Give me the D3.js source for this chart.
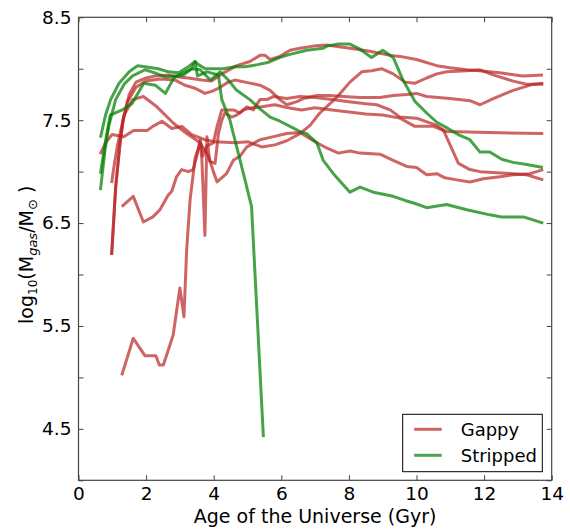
<!DOCTYPE html>
<html>
<head>
<meta charset="utf-8">
<script src="https://cdn.jsdelivr.net/npm/d3@7"></script>
<style>
  body { margin: 0; background: #fff; }
  svg text { font-family: "DejaVu Sans", sans-serif; fill: #000; }
</style>
</head>
<body>
<div id="chart"></div>
<script>
// [age (Gyr), log10 Mgas] for each galaxy track
var gappy1 = [[0.64,7.17],[0.8,7.28],[0.99,7.36],[1.34,7.34],[1.63,7.40],[2.03,7.40],[2.2,7.44],[2.47,7.49],[2.76,7.42],[3.06,7.44],[3.35,7.36],[3.74,7.31],[4.04,7.29],[4.63,7.28],[5.02,7.29],[5.42,7.24],[5.81,7.26],[6.16,7.3],[6.55,7.37],[6.85,7.45],[7.14,7.57],[7.44,7.66],[7.69,7.74],[8.03,7.87],[8.38,7.97],[8.67,7.98],[8.97,8.0],[9.31,7.95],[9.66,7.87],[9.96,7.86],[10.3,7.91],[10.6,7.95],[10.9,7.97],[11.49,7.98],[11.88,7.99],[12.27,7.94],[12.86,7.88],[13.26,7.85],[13.75,7.85]];
var gappy2 = [[0.98,6.89],[1.05,7.05],[1.15,7.25],[1.35,7.55],[1.6,7.7],[1.92,7.73],[2.32,7.63],[2.81,7.47],[3.2,7.37],[3.6,7.28],[3.85,7.15],[3.99,7.0],[4.1,6.9],[4.38,6.98],[4.58,7.11],[4.78,7.15],[4.98,7.24],[5.37,7.31],[5.77,7.34],[6.16,7.37],[6.55,7.38],[6.95,7.3],[7.34,7.23],[7.69,7.18],[8.03,7.2],[8.33,7.18],[8.92,7.17],[9.31,7.11],[9.71,7.05],[10.0,7.04],[10.3,6.97],[10.6,6.98],[10.84,6.94],[11.19,6.92],[11.58,6.9],[11.98,6.93],[12.47,6.95],[12.86,6.97],[13.36,6.98],[13.75,7.02]];
var gappy3 = [[0.98,6.19],[1.1,6.85],[1.22,7.25],[1.32,7.5],[1.5,7.75],[1.7,7.87],[2.0,7.91],[2.26,7.93],[2.66,7.94],[2.96,7.92],[3.25,7.91],[3.64,7.89],[3.94,7.88],[4.24,7.95],[4.68,8.03],[5.07,8.07],[5.37,8.13],[5.52,8.13],[5.67,8.09],[5.96,8.12],[6.26,8.18],[6.55,8.20],[6.95,8.22],[7.34,8.23],[8.03,8.20],[8.62,8.17],[9.22,8.13],[9.51,8.12],[10.0,8.09],[10.6,8.03],[10.99,8.01],[11.49,7.99],[11.86,7.98],[12.46,7.96],[13.15,7.93],[13.74,7.94]];
var gappy4 = [[0.98,6.19],[1.1,6.85],[1.22,7.25],[1.32,7.5],[1.45,7.68],[1.7,7.82],[2.0,7.88],[2.4,7.9],[2.86,7.89],[3.15,7.84],[3.45,7.81],[3.74,7.76],[3.94,7.78],[4.14,7.81],[4.43,7.87],[4.63,7.89],[5.07,7.86],[5.37,7.84],[5.67,7.79],[5.96,7.7],[6.16,7.65],[6.46,7.68],[6.65,7.71],[7.05,7.74],[7.44,7.74],[7.84,7.73],[8.33,7.72],[8.92,7.72],[9.31,7.74],[9.71,7.75],[10.0,7.76],[10.3,7.73],[10.99,7.71],[11.58,7.69],[11.88,7.65],[12.27,7.71],[12.86,7.79],[13.46,7.85],[13.75,7.86]];
var gappy5 = [[1.28,6.66],[1.62,6.76],[1.92,6.51],[2.2,6.56],[2.41,6.63],[2.65,6.77],[2.76,6.81],[2.9,6.95],[3.05,7.02],[3.25,7.0],[3.39,7.02],[3.5,7.15],[3.6,7.31],[3.68,7.15],[3.8,7.25],[3.99,7.28],[4.1,7.44],[4.24,7.6],[4.58,7.6],[4.78,7.57],[4.98,7.63],[5.17,7.6],[5.37,7.7],[5.57,7.7],[5.76,7.73],[6.16,7.71],[6.55,7.73],[7.0,7.72],[7.5,7.7],[8.0,7.68],[8.5,7.66],[8.82,7.65],[9.22,7.6],[9.51,7.53],[10.0,7.52],[10.6,7.45],[10.8,7.4],[11.24,7.08],[11.58,7.02],[11.88,7.0],[12.37,6.99],[12.86,6.98],[13.26,6.97],[13.75,6.92]];
var gappy6 = [[1.28,5.02],[1.62,5.38],[1.97,5.21],[2.29,5.21],[2.39,5.12],[2.51,5.12],[2.8,5.41],[3.0,5.87],[3.12,5.59],[3.2,6.24],[3.3,6.72],[3.45,7.13],[3.6,7.28],[3.65,7.12],[3.74,6.38],[3.8,7.34],[3.88,7.1],[4.04,7.08],[4.14,7.37],[4.24,7.5],[4.33,7.57],[4.53,7.53],[4.68,7.55],[4.88,7.6],[5.12,7.62],[5.42,7.63],[5.81,7.65],[6.2,7.62],[6.6,7.6],[7.0,7.62],[7.5,7.6],[8.0,7.58],[8.5,7.56],[9.0,7.55],[9.51,7.52],[9.95,7.44],[10.5,7.44],[10.89,7.39],[12.17,7.38],[13.75,7.37]];

var stripped1 = [[0.65,7.33],[0.8,7.55],[0.95,7.70],[1.2,7.86],[1.5,7.97],[1.75,8.03],[1.97,8.02],[2.36,8.0],[2.66,7.97],[2.96,7.96],[3.25,8.02],[3.45,8.07],[3.55,8.04],[3.75,8.0],[4.04,8.0],[4.28,8.0],[4.63,8.02],[4.93,8.02],[5.3,8.04],[5.6,8.06],[5.96,8.11],[6.26,8.14],[6.75,8.18],[7.24,8.2],[7.35,8.22],[7.68,8.24],[8.03,8.24],[8.33,8.19],[8.67,8.11],[9.0,8.18],[9.31,8.11],[9.6,7.89],[9.96,7.68],[10.3,7.57],[10.6,7.48],[10.93,7.42],[11.23,7.36],[11.58,7.31],[11.88,7.19],[12.17,7.19],[12.52,7.12],[12.86,7.09],[13.26,7.07],[13.74,7.04]];
var stripped2 = [[0.65,6.82],[0.78,7.2],[0.9,7.45],[1.1,7.7],[1.35,7.85],[1.6,7.93],[1.97,7.99],[2.26,7.96],[2.56,7.92],[2.86,7.93],[3.1,7.94],[3.35,8.0],[3.6,7.99],[3.9,7.89],[4.19,7.97],[4.43,7.89],[4.68,7.79],[5.07,7.70],[5.37,7.61],[5.67,7.53],[5.96,7.49],[6.26,7.44],[6.55,7.39],[6.75,7.37],[7.05,7.28],[7.24,7.11],[7.54,6.98],[8.03,6.80],[8.33,6.85],[8.72,6.80],[9.02,6.78],[9.31,6.76],[9.66,6.72],[9.96,6.69],[10.3,6.65],[10.89,6.68],[11.49,6.63],[12.17,6.58],[12.52,6.56],[13.16,6.56],[13.75,6.50]];
var stripped3 = [[0.65,6.98],[0.8,7.3],[0.94,7.55],[1.29,7.6],[1.58,7.66],[1.93,7.86],[2.27,7.84],[2.57,7.76],[2.82,7.91],[3.1,7.96],[3.35,8.0],[3.45,8.07],[3.52,7.93],[3.8,7.97],[4.14,7.94],[4.24,7.7],[4.48,7.5],[4.68,7.24],[4.88,6.98],[5.12,6.66],[5.47,4.42]];

var gappy    = [gappy1, gappy2, gappy3, gappy4, gappy5, gappy6];
var stripped = [stripped1, stripped2, stripped3];

var xTicks = [0, 2, 4, 6, 8, 10, 12, 14];
var yTicks = [4.0, 4.5, 5.0, 5.5, 6.0, 6.5, 7.0, 7.5, 8.0, 8.5];
var yLabelled = [4.5, 5.5, 6.5, 7.5, 8.5];
var legendNames = ['Gappy', 'Stripped'];

var width  = 570,
    height = 529,
    margin = {top: 17.3, right: 18.3, bottom: 48.7, left: 78.5},
    w = width - margin.left - margin.right,
    h = height - margin.top - margin.bottom,
    RED = '#bb2222',
    GREEN = '#008000';

var svg = d3.select('#chart').append('svg')
    .attr('width', width)
    .attr('height', height);

var g = svg.append('g')
    .attr('transform', 'translate(' + margin.left + ',' + margin.top + ')');

var x = d3.scaleLinear().domain([0, 14]).range([0, w]);
var y = d3.scaleLinear().domain([4.0, 8.5]).range([h, 0]);

var line = d3.line()
    .x(function(d) { return x(d[0]); })
    .y(function(d) { return y(d[1]); });

g.append('defs').append('clipPath').attr('id', 'clip')
    .append('rect').attr('width', w).attr('height', h);

var plot = g.append('g').attr('clip-path', 'url(#clip)');

plot.selectAll('path.gappy')
    .data(gappy)
    .enter().append('path')
    .attr('class', 'gappy')
    .attr('d', line)
    .style('fill', 'none')
    .style('stroke', RED)
    .style('stroke-opacity', 0.7)
    .style('stroke-width', 3)
    .style('stroke-linejoin', 'round');

plot.selectAll('path.stripped')
    .data(stripped)
    .enter().append('path')
    .attr('class', 'stripped')
    .attr('d', line)
    .style('fill', 'none')
    .style('stroke', GREEN)
    .style('stroke-opacity', 0.72)
    .style('stroke-width', 3)
    .style('stroke-linejoin', 'round');

// axes, ticks pointing inwards on all four sides
function fmtY(d) {
    return yLabelled.indexOf(d) >= 0 ? d3.format('.1f')(d) : '';
}
var axes = [
    {a: d3.axisBottom(x).tickValues(xTicks).tickFormat(d3.format('d')), t: [0, h]},
    {a: d3.axisTop(x).tickValues(xTicks).tickFormat(''), t: [0, 0]},
    {a: d3.axisLeft(y).tickValues(yTicks).tickFormat(fmtY), t: [0, 0]},
    {a: d3.axisRight(y).tickValues(yTicks).tickFormat(''), t: [w, 0]}
];
axes.forEach(function(ax) {
    var sel = g.append('g')
        .attr('transform', 'translate(' + ax.t[0] + ',' + ax.t[1] + ')')
        .call(ax.a.tickSizeInner(-5).tickSizeOuter(0).tickPadding(7));
    sel.select('.domain').remove();
    sel.selectAll('line').style('stroke', '#444');
    sel.selectAll('text').style('font-size', '18.5px').style('font-family', '"DejaVu Sans", sans-serif');
});

g.append('rect')
    .attr('width', w)
    .attr('height', h)
    .style('fill', 'none')
    .style('stroke', '#444')
    .style('stroke-width', 1.2);

// axis titles
svg.append('text')
    .attr('x', margin.left + w / 2)
    .attr('y', 523)
    .attr('text-anchor', 'middle')
    .style('font-size', '19px')
    .text('Age of the Universe (Gyr)');

var yl = svg.append('text')
    .attr('transform', 'translate(33,' + (margin.top + h / 2 + 6) + ') rotate(-90)')
    .attr('text-anchor', 'middle')
    .style('font-size', '19px');
yl.append('tspan').text('log');
yl.append('tspan').attr('dy', 4).style('font-size', '12px').text('10');
yl.append('tspan').attr('dy', -4).text('(M');
yl.append('tspan').attr('dy', 4).style('font-size', '13px').style('font-style', 'italic').text('gas');
yl.append('tspan').attr('dy', -4).text('/M');
yl.append('tspan').attr('dy', 4).style('font-size', '13px').text('\u2299');
yl.append('tspan').attr('dy', -4).text(' )');

// legend
var lg = svg.append('g').attr('transform', 'translate(402.7,414.3)');
lg.append('rect')
    .attr('width', 139.6)
    .attr('height', 57.4)
    .style('fill', '#fff')
    .style('stroke', '#000')
    .style('stroke-width', 1);
legendNames.forEach(function(name, i) {
    var yy = 15 + i * 26;
    lg.append('line')
        .attr('x1', 11.5).attr('x2', 39)
        .attr('y1', yy).attr('y2', yy)
        .style('stroke', i ? GREEN : RED)
        .style('stroke-opacity', i ? 0.72 : 0.7)
        .style('stroke-width', 3);
    lg.append('text')
        .attr('x', 58)
        .attr('y', yy + 6.5)
        .style('font-size', '18px')
        .text(name);
});
</script>
</body>
</html>
